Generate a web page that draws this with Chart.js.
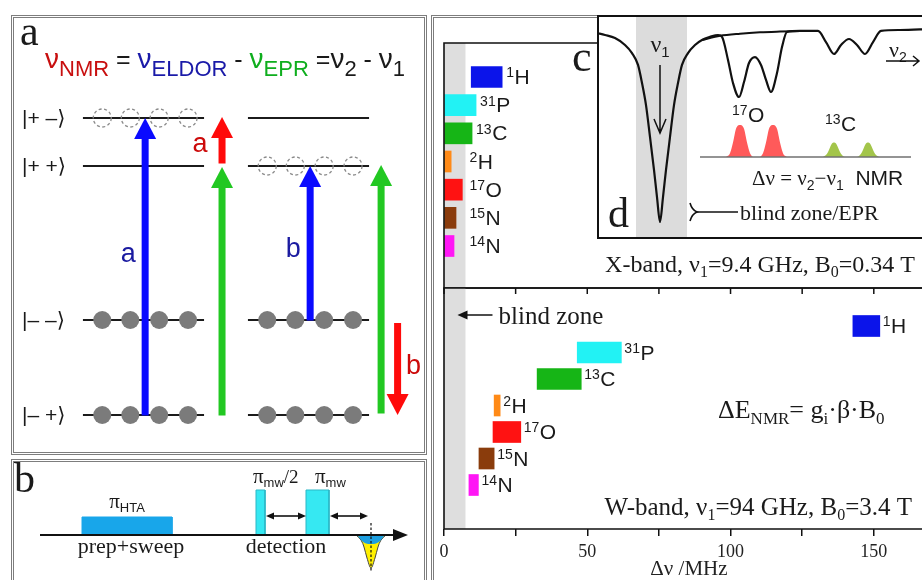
<!DOCTYPE html>
<html><head><meta charset="utf-8">
<script src="https://cdn.jsdelivr.net/npm/chart.js@4.4.0/dist/chart.umd.min.js"></script>
<style>
html,body{margin:0;padding:0;background:#fff;width:922px;height:580px;overflow:hidden;position:relative}
.frame{position:absolute;border:3px double #7d7d7d;box-sizing:border-box}
canvas{position:absolute}
#inset{position:absolute;left:597px;top:15px;width:400px;height:224px;border:2px solid #111;box-sizing:border-box;background:#fff;overflow:hidden;z-index:5}
</style></head><body>
<div class="frame" style="left:11px;top:15px;width:416px;height:440px"></div>
<div class="frame" style="left:11px;top:459px;width:416px;height:200px"></div>
<div class="frame" style="left:431px;top:15px;width:600px;height:700px"></div>
<canvas id="cA" width="410" height="434" style="left:14px;top:18px"></canvas>
<canvas id="cB" width="410" height="118" style="left:14px;top:462px"></canvas>
<canvas id="cX" width="520" height="270" style="left:432px;top:30px"></canvas>
<canvas id="cW" width="520" height="305" style="left:432px;top:275px"></canvas>
<div id="inset"><canvas id="cC" width="330" height="220" style="left:0;top:0"></canvas></div>
<script>
// ================= DATA =================
// main panels: NMR frequency ranges (MHz) of nuclei
const nuclei = ['1H','31P','13C','2H','17O','15N','14N'];
const nucleusColors = ['#0b14ea','#22f2f4','#16b516','#ff8a17','#ff1212','#8a3c0c','#ff16f5'];
const xbandStart = [9.5, 0.2, 0.2, 0.2, 0.2, 0.2, 0.2];
const xbandEnd   = [20.3, 11.2, 9.8, 2.5, 6.4, 4.2, 3.5];
const wbandStart = [142.7, 46.5, 32.5, 17.5, 17.1, 12.2, 8.7];
const wbandEnd   = [152.1, 61.9, 47.9, 19.6, 26.8, 17.5, 12.0];
const blindZoneMHz = [0, 7.5];
const freqTicks = [0, 25, 50, 75, 100, 125, 150, 175];
const freqTickLabels = ['0', '', '50', '', '100', '', '150', ''];

// panel a: energy levels and transitions
const kets = ['|+ \u2013\u27E9', '|+ +\u27E9', '|\u2013 \u2013\u27E9', '|\u2013 +\u27E9'];
const levelEnergy = [2.97, 2.49, 0.95, 0.0];
const columnPos = [1, 2];
const occupancy = [['empty','none','full','full'], ['none','empty','full','full']];
const transX     = [1.01, 1.476, 1.476, 2.01, 2.44, 2.54];
const transFrom  = [0.0, 2.52, 0.0, 0.95, 0.02, 0.92];
const transTo    = [2.97, 2.98, 2.48, 2.49, 2.50, 0.0];
const transColor = ['#0a0aff', '#ff0a0a', '#22c822', '#0a0aff', '#22c822', '#ff0a0a'];
const transLabel = ['a', 'a', '', 'b', '', 'b'];
const transLabelE = [1.60, 2.70, 0, 1.65, 0, 0.48];

// panel b: pulse sequence
const pulseStart = [4.2, 21.6, 26.6];
const pulseEnd   = [13.2, 22.5, 28.9];
const pulseAmp   = [1.8, 4.5, 4.5];
const pulseColor = ['#18a6ea', '#36e8f2', '#36e8f2'];
const delayFrom = [22.5, 28.9];
const delayTo   = [26.6, 32.8];
const echoT      = [31.6, 32.1, 32.4, 32.7, 33.1, 33.5, 33.8, 34.1, 34.6];
const echoYellow = [0, -0.5, -1.2, -2.3, -3.3, -2.3, -1.2, -0.5, 0];
const echoBlueT  = [31.7, 32.2, 32.6, 33.1, 33.6, 34.0, 34.5];
const echoBlue   = [0, -0.6, -0.85, -0.9, -0.85, -0.6, 0];
const timeAxisEnd = 36.8;

// panel c/d: EPR (ELDOR) spectrum and NMR lines
const eprFreq   = [-63,-55,-45,-35,-28,-22,-18,-14,-10,-6,-3,0,3,6,10,14,18,22,28,35,42,50,58,
                   62,68,73,79,84,89,95,101,106,111,117,122,127,140,158,166,174,181,189,197,205,213,221,240,270];
const eprSignal = [-0.016,-0.026,-0.042,-0.078,-0.120,-0.182,-0.276,-0.391,-0.557,-0.729,-0.870,-1.000,
                   -0.870,-0.729,-0.557,-0.391,-0.276,-0.182,-0.120,-0.078,-0.052,-0.036,-0.026,
                   -0.036,-0.156,-0.276,-0.349,-0.271,-0.172,-0.141,-0.182,-0.260,-0.323,-0.224,-0.089,-0.010,
                   -0.005,-0.005,-0.063,-0.125,-0.078,-0.047,-0.078,-0.125,-0.063,-0.005,0,0.005];
const eprBaseFreq   = [42, 60, 80, 100, 120, 140];
const eprBaseSignal = [-0.052, -0.030, -0.019, -0.012, -0.008, -0.005];
const nmrFreq17O = [66,70,73,76,80,84,87,90,94, 99,103,106,109,113,117,120,123,127];
const nmr17O     = [0,0.12,0.45,0.88,1,0.88,0.45,0.12,0, 0,0.12,0.45,0.88,1,0.88,0.45,0.12,0];
const nmrFreq13C = [163,167,170,172,174,176,178,181,185, 197,201,204,206,208,210,212,215,219];
const nmr13C     = [0,0.1,0.3,0.42,0.45,0.42,0.3,0.1,0, 0,0.1,0.3,0.42,0.45,0.42,0.3,0.1,0];
const nmrBaseFreq = [40, 251];
const blindZoneEPR = [-24, 27];

// ================= HELPERS =================
const SANS = '"Liberation Sans", Arial, "DejaVu Sans", sans-serif';
const SERIF = '"Liberation Serif", "Times New Roman", "DejaVu Serif", serif';
const F = (size, fam) => size + 'px ' + fam;
const zip = (xs, ys) => xs.map((v, i) => ({x: v, y: ys[i]}));

Chart.defaults.animation = false;
Chart.defaults.responsive = false;
Chart.defaults.events = [];
Chart.defaults.plugins.legend.display = false;
Chart.defaults.plugins.tooltip.enabled = false;

function rich(ctx, x, y, segs, align) {
  let w = 0;
  segs.forEach(s => { ctx.font = s.f; s.w = ctx.measureText(s.t).width + (s.gap || 0); w += s.w; });
  let cx = align === 'right' ? x - w : align === 'center' ? x - w / 2 : x;
  ctx.textAlign = 'left'; ctx.textBaseline = 'alphabetic';
  segs.forEach(s => { ctx.font = s.f; ctx.fillStyle = s.c || '#1a1a1a'; ctx.fillText(s.t, cx, y + (s.dy || 0)); cx += s.w; });
  return w;
}
function isotope(ctx, x, baseline, name, size) {
  const m = name.match(/^(\d+)(.+)$/);
  size = size || 21;
  rich(ctx, x, baseline, [{t: m[1], f: F(Math.round(size * 0.66), SANS), dy: -size * 0.31, gap: 0.5}, {t: m[2], f: F(size, SANS)}]);
}
function solidArrow(ctx, x, y0, y1, color, shaftW, headW, headL) {
  const dir = y1 < y0 ? -1 : 1;
  const yb = y1 - dir * headL;
  ctx.fillStyle = color;
  ctx.fillRect(x - shaftW / 2, Math.min(y0, yb), shaftW, Math.abs(yb - y0) + 0.5);
  ctx.beginPath(); ctx.moveTo(x, y1); ctx.lineTo(x - headW / 2, yb); ctx.lineTo(x + headW / 2, yb); ctx.closePath(); ctx.fill();
}
function hHead(ctx, x, y, dir, len, half) {
  ctx.beginPath(); ctx.moveTo(x, y); ctx.lineTo(x - dir * len, y - half); ctx.lineTo(x - dir * len, y + half); ctx.closePath(); ctx.fill();
}

// ================= PANEL a =================
const HALF = 0.367;
const circleOffsets = [-0.25, -0.08, 0.095, 0.27];
const fullPts = [], emptyPts = [];
columnPos.forEach((cx, c) => occupancy[c].forEach((st, l) => {
  if (st === 'none') return;
  circleOffsets.forEach(o => (st === 'full' ? fullPts : emptyPts).push({x: cx + o, y: levelEnergy[l]}));
}));
const aDatasets = [
  {data: fullPts, showLine: false, pointRadius: 9, pointBackgroundColor: '#7b7b7b', pointBorderColor: '#7b7b7b', pointBorderWidth: 0},
  {data: emptyPts, showLine: false, pointRadius: 9, pointBackgroundColor: 'rgba(255,255,255,0)', pointBorderColor: '#8a8a8a', pointBorderWidth: 1.3, dashed: true}
];
columnPos.forEach(cx => levelEnergy.forEach(E => aDatasets.push({
  data: [{x: cx - HALF, y: E}, {x: cx + HALF, y: E}], borderColor: '#1b1b1b', borderWidth: 2, pointRadius: 0
})));
const dashPlugin = {
  id: 'dash',
  beforeDatasetDraw(chart, args) { if (chart.data.datasets[args.index].dashed) chart.ctx.setLineDash([3, 2.5]); },
  afterDatasetDraw(chart) { chart.ctx.setLineDash([]); }
};
new Chart(document.getElementById('cA'), {
  type: 'line',
  data: {datasets: aDatasets},
  options: {
    devicePixelRatio: 1, layout: {padding: 0, autoPadding: false},
    scales: {x: {type: 'linear', min: 0.2152, max: 2.7, display: false}, y: {type: 'linear', min: -0.37, max: 3.97, display: false}}
  },
  plugins: [dashPlugin, {
    id: 'panelA',
    afterDatasetsDraw(chart) {
      const {ctx, scales: {x, y}} = chart;
      ctx.save();
      rich(ctx, 6, 27, [{t: 'a', f: F(42, SERIF)}]);
      const RED = '#c80f0f', BLU = '#1a1aa8', GRN = '#0fae1e', BLK = '#1a1a1a';
      rich(ctx, 31, 50, [
        {t: '\u03BD', f: F(28, SANS), c: RED}, {t: 'NMR', f: F(22, SANS), c: RED, dy: 8},
        {t: ' = ', f: F(25, SANS), c: BLK},
        {t: '\u03BD', f: F(28, SANS), c: BLU}, {t: 'ELDOR', f: F(22, SANS), c: BLU, dy: 8},
        {t: ' - ', f: F(25, SANS), c: BLK},
        {t: '\u03BD', f: F(28, SANS), c: GRN}, {t: 'EPR', f: F(22, SANS), c: GRN, dy: 8},
        {t: ' =', f: F(25, SANS), c: BLK},
        {t: '\u03BD', f: F(28, SANS), c: BLK}, {t: '2', f: F(22, SANS), c: BLK, dy: 8},
        {t: ' - ', f: F(25, SANS), c: BLK},
        {t: '\u03BD', f: F(28, SANS), c: BLK}, {t: '1', f: F(22, SANS), c: BLK, dy: 8}
      ]);
      ctx.font = F(21, SANS); ctx.fillStyle = BLK; ctx.textAlign = 'left'; ctx.textBaseline = 'middle';
      kets.forEach((k, l) => ctx.fillText(k, 8, y.getPixelForValue(levelEnergy[l]) + 1));
      transX.forEach((tx, i) => solidArrow(ctx, x.getPixelForValue(tx), y.getPixelForValue(transFrom[i]), y.getPixelForValue(transTo[i]), transColor[i], 7, 22, 21));
      ctx.font = F(27, SANS); ctx.textAlign = 'center'; ctx.textBaseline = 'middle';
      transLabel.forEach((lb, i) => {
        if (!lb) return;
        const isRed = transColor[i] === '#ff0a0a';
        const dx = i === 1 ? -22 : (i === 5 ? 16 : -17);
        ctx.fillStyle = isRed ? '#cc0a0a' : '#1a1aa0';
        ctx.fillText(lb, x.getPixelForValue(transX[i]) + dx, y.getPixelForValue(transLabelE[i]));
      });
      ctx.restore();
    }
  }]
});

// ================= PANEL b =================
const bDatasets = [
  {data: zip(echoBlueT, echoBlue), fill: 'origin', backgroundColor: '#1d9fe0', borderWidth: 0, pointRadius: 0, tension: 0.35},
  {data: zip(echoT, echoYellow), fill: 'origin', backgroundColor: '#fff000', borderColor: '#444', borderWidth: 1, pointRadius: 0, tension: 0.35}
];
pulseStart.forEach((s, i) => bDatasets.push({
  data: [{x: s, y: 0}, {x: s, y: pulseAmp[i]}, {x: pulseEnd[i], y: pulseAmp[i]}, {x: pulseEnd[i], y: 0}],
  fill: 'origin', backgroundColor: pulseColor[i], borderColor: i === 0 ? pulseColor[i] : '#2bb7c6', borderWidth: 1, pointRadius: 0
}));
new Chart(document.getElementById('cB'), {
  type: 'line',
  data: {datasets: bDatasets},
  options: {
    devicePixelRatio: 1, layout: {padding: 0, autoPadding: false},
    scales: {x: {type: 'linear', min: -2.6, max: 38.4, display: false}, y: {type: 'linear', min: -4.5, max: 7.3, display: false}}
  },
  plugins: [{
    id: 'panelB',
    afterDatasetsDraw(chart) {
      const {ctx, scales: {x, y}} = chart;
      ctx.save();
      ctx.fillStyle = '#111'; ctx.strokeStyle = '#111';
      const y0 = y.getPixelForValue(0);
      const xe = x.getPixelForValue(timeAxisEnd);
      ctx.lineWidth = 2;
      ctx.beginPath(); ctx.moveTo(x.getPixelForValue(0), y0); ctx.lineTo(xe - 12, y0); ctx.stroke();
      hHead(ctx, xe, y0, 1, 15, 6);
      ctx.lineWidth = 1.6;
      const yd = y.getPixelForValue(1.9);
      delayFrom.forEach((f, i) => {
        const a = x.getPixelForValue(f) + 1, b = x.getPixelForValue(delayTo[i]);
        ctx.beginPath(); ctx.moveTo(a + 5, yd); ctx.lineTo(b - 5, yd); ctx.stroke();
        hHead(ctx, a, yd, -1, 8, 3.5); hHead(ctx, b, yd, 1, 8, 3.5);
      });
      const xEcho = x.getPixelForValue(echoT[4]);
      ctx.lineWidth = 1.2; ctx.setLineDash([2.5, 2]);
      ctx.beginPath(); ctx.moveTo(xEcho, y.getPixelForValue(1.2)); ctx.lineTo(xEcho, y.getPixelForValue(-3.7)); ctx.stroke();
      ctx.setLineDash([]);
      rich(ctx, 0, 30, [{t: 'b', f: F(42, SERIF)}]);
      rich(ctx, x.getPixelForValue((pulseStart[0] + pulseEnd[0]) / 2), y.getPixelForValue(2.7),
        [{t: '\u03C0', f: F(21, SERIF)}, {t: 'HTA', f: F(13, SANS), dy: 4}], 'center');
      rich(ctx, x.getPixelForValue(pulseStart[1]) - 3, y.getPixelForValue(5.2),
        [{t: '\u03C0', f: F(21, SERIF)}, {t: 'mw', f: F(13, SANS), dy: 4}, {t: '/2', f: F(19, SERIF)}]);
      rich(ctx, x.getPixelForValue(pulseStart[2]) + 9, y.getPixelForValue(5.2),
        [{t: '\u03C0', f: F(21, SERIF)}, {t: 'mw', f: F(13, SANS), dy: 4}]);
      rich(ctx, x.getPixelForValue(9.1), y.getPixelForValue(-1.8), [{t: 'prep+sweep', f: F(22, SERIF)}], 'center');
      rich(ctx, x.getPixelForValue(24.6), y.getPixelForValue(-1.8), [{t: 'detection', f: F(22, SERIF)}], 'center');
      ctx.restore();
    }
  }]
});

// ================= MAIN PANELS (X-band / W-band) =================
const X_MAX = 174.5;
function bandChart(id, starts, ends, yMin, yMax, withAxis, labelMin, gap, extra) {
  return new Chart(document.getElementById(id), {
    type: 'bar',
    data: {datasets: [{
      data: nuclei.map((n, i) => ({x: [starts[i], ends[i]], y: i})),
      backgroundColor: nucleusColors, borderWidth: 0, barThickness: 21
    }]},
    options: {
      devicePixelRatio: 1, indexAxis: 'y',
      layout: {padding: {left: 12, top: 13, right: 8, bottom: withAxis ? 0 : 12}, autoPadding: false},
      scales: {
        x: withAxis ? {
          type: 'linear', min: 0, max: X_MAX, position: 'bottom', offset: false,
          afterFit: s => { s.height = 51; },
          afterBuildTicks: s => { s.ticks = freqTicks.map(v => ({value: v})); },
          ticks: {autoSkip: false, maxRotation: 0, padding: 5, color: '#222', font: {family: SERIF, size: 18},
                  callback: (v, i) => freqTickLabels[i]},
          grid: {display: true, drawOnChartArea: false, drawTicks: true, tickLength: 7, color: '#111', lineWidth: 1.5},
          border: {display: false},
          title: {display: false}
        } : {type: 'linear', min: 0, max: X_MAX, display: false, offset: false},
        y: {type: 'linear', min: yMin, max: yMax, reverse: true, display: false, offset: false}
      }
    },
    plugins: [{
      id: 'band' + id,
      beforeDatasetsDraw(chart) {
        const {ctx, chartArea: a, scales: {x}} = chart;
        const x0 = x.getPixelForValue(blindZoneMHz[0]), x1 = x.getPixelForValue(blindZoneMHz[1]);
        ctx.save(); ctx.fillStyle = '#dedede'; ctx.fillRect(x0, a.top, x1 - x0, a.bottom - a.top); ctx.restore();
      },
      afterDatasetsDraw(chart) {
        const {ctx, chartArea: a, scales: {x, y}} = chart;
        ctx.save();
        const bz = x.getPixelForValue(blindZoneMHz[1]);
        nuclei.forEach((n, i) => {
          let px = x.getPixelForValue(ends[i]);
          if (labelMin) px = Math.max(px, bz);
          isotope(ctx, px + gap, y.getPixelForValue(i) + 7, n, 21);
        });
        ctx.strokeStyle = '#111'; ctx.lineWidth = 1.6;
        ctx.beginPath(); ctx.moveTo(a.right + 20, a.top); ctx.lineTo(a.left, a.top); ctx.lineTo(a.left, a.bottom); ctx.lineTo(a.right + 20, a.bottom); ctx.stroke();
        extra(chart, ctx, a, x, y);
        ctx.restore();
      }
    }]
  });
}
bandChart('cX', xbandStart, xbandEnd, -1.207, 7.491, false, true, 4, (chart, ctx, a, x, y) => {
  rich(ctx, 140, 41, [{t: 'c', f: F(44, SERIF)}]);
  rich(ctx, 483, 242, [
    {t: 'X-band, \u03BD', f: F(24, SERIF)}, {t: '1', f: F(16, SERIF), dy: 5},
    {t: '=9.4 GHz, B', f: F(24, SERIF)}, {t: '0', f: F(16, SERIF), dy: 5},
    {t: '=0.34 T', f: F(24, SERIF)}], 'right');
});
bandChart('cW', wbandStart, wbandEnd, -1.434, 7.66, true, false, 3, (chart, ctx, a, x, y) => {
  ctx.lineWidth = 1.5; ctx.strokeStyle = '#111'; ctx.fillStyle = '#111';
  freqTicks.forEach(v => { const px = x.getPixelForValue(v); ctx.beginPath(); ctx.moveTo(px, a.top); ctx.lineTo(px, a.top + 6); ctx.stroke(); });
  const tip = x.getPixelForValue(blindZoneMHz[1]) - 8;
  ctx.beginPath(); ctx.moveTo(tip + 6, 40); ctx.lineTo(tip + 35, 40); ctx.stroke();
  hHead(ctx, tip, 40, -1, 10, 4.5);
  rich(ctx, tip + 41, 49, [{t: 'blind zone', f: F(25, SERIF)}]);
  rich(ctx, 286, 143, [
    {t: '\u0394E', f: F(26, SERIF)}, {t: 'NMR', f: F(17, SERIF), dy: 6},
    {t: '= g', f: F(26, SERIF)}, {t: 'i', f: F(17, SERIF), dy: 6},
    {t: '\u00B7\u03B2\u00B7B', f: F(26, SERIF)}, {t: '0', f: F(17, SERIF), dy: 6}]);
  rich(ctx, 480, 240, [
    {t: 'W-band, \u03BD', f: F(25, SERIF)}, {t: '1', f: F(16, SERIF), dy: 5},
    {t: '=94 GHz, B', f: F(25, SERIF)}, {t: '0', f: F(16, SERIF), dy: 5},
    {t: '=3.4 T', f: F(25, SERIF)}], 'right');
  // axis title, placed as in the original figure
  rich(ctx, x.getPixelForValue(85.5), 300, [{t: '\u0394\u03BD /MHz', f: F(21, SERIF), c: '#222'}], 'center');
});

// ================= PANEL c/d =================
new Chart(document.getElementById('cC'), {
  type: 'line',
  data: {datasets: [
    {data: zip(eprFreq, eprSignal), borderColor: '#111', borderWidth: 2.2, pointRadius: 0, cubicInterpolationMode: 'monotone'},
    {data: zip(eprBaseFreq, eprBaseSignal), borderColor: '#111', borderWidth: 2, pointRadius: 0, cubicInterpolationMode: 'monotone'},
    {data: nmrBaseFreq.map(f => ({x: f, y: 0})), yAxisID: 'y2', borderColor: '#707070', borderWidth: 1.6, pointRadius: 0},
    {data: zip(nmrFreq13C, nmr13C), yAxisID: 'y2', fill: 'origin', backgroundColor: '#a3c54a', borderWidth: 0, pointRadius: 0, cubicInterpolationMode: 'monotone'},
    {data: zip(nmrFreq17O, nmr17O), yAxisID: 'y2', fill: 'origin', backgroundColor: '#ff5a5a', borderWidth: 0, pointRadius: 0, cubicInterpolationMode: 'monotone'}
  ]},
  options: {
    devicePixelRatio: 1, layout: {padding: 0, autoPadding: false},
    scales: {
      x: {type: 'linear', min: -61, max: 269, display: false},
      y: {type: 'linear', min: -1.078, max: 0.0677, display: false},
      y2: {type: 'linear', min: -2.5, max: 4.375, display: false}
    }
  },
  plugins: [{
    id: 'panelC',
    beforeDatasetsDraw(chart) {
      const {ctx, chartArea: a, scales: {x}} = chart;
      const x0 = x.getPixelForValue(blindZoneEPR[0]), x1 = x.getPixelForValue(blindZoneEPR[1]);
      ctx.save(); ctx.fillStyle = '#dcdcdc'; ctx.fillRect(x0, a.top, x1 - x0, a.bottom - a.top); ctx.restore();
    },
    afterDatasetsDraw(chart) {
      const {ctx, scales: {x}} = chart;
      ctx.save();
      ctx.strokeStyle = '#111'; ctx.fillStyle = '#111'; ctx.lineWidth = 1.5;
      const xv = x.getPixelForValue(0);
      rich(ctx, xv, 35, [{t: '\u03BD', f: F(24, SERIF)}, {t: '1', f: F(15, SANS), dy: 5}], 'center');
      ctx.beginPath(); ctx.moveTo(xv, 48); ctx.lineTo(xv, 116); ctx.moveTo(xv - 6, 102); ctx.lineTo(xv, 116); ctx.lineTo(xv + 6, 102); ctx.stroke();
      rich(ctx, 290, 40, [{t: '\u03BD', f: F(22, SERIF)}, {t: '2', f: F(14, SANS), dy: 5}]);
      ctx.beginPath(); ctx.moveTo(287, 44); ctx.lineTo(320, 44); ctx.moveTo(314, 39); ctx.lineTo(320, 44); ctx.lineTo(314, 49); ctx.stroke();
      isotope(ctx, 133, 105, '17O', 21);
      isotope(ctx, 226, 114, '13C', 21);
      rich(ctx, 153, 168, [
        {t: '\u0394\u03BD = \u03BD', f: F(21, SERIF)}, {t: '2', f: F(14, SANS), dy: 5},
        {t: '\u2212\u03BD', f: F(21, SERIF)}, {t: '1', f: F(14, SANS), dy: 5},
        {t: '  NMR', f: F(21, SANS)}]);
      rich(ctx, 9, 210, [{t: 'd', f: F(42, SERIF)}]);
      const bx = x.getPixelForValue(blindZoneEPR[1]) + 3, by = 195;
      ctx.lineWidth = 1.6;
      ctx.beginPath(); ctx.moveTo(bx, by - 9); ctx.quadraticCurveTo(bx + 2, by - 2, bx + 7, by); ctx.quadraticCurveTo(bx + 2, by + 2, bx, by + 9); ctx.stroke();
      ctx.beginPath(); ctx.moveTo(bx + 7, by); ctx.lineTo(bx + 48, by); ctx.stroke();
      rich(ctx, bx + 50, 203, [{t: 'blind zone/EPR', f: F(22, SERIF)}]);
      ctx.restore();
    }
  }]
});
</script>
</body></html>
